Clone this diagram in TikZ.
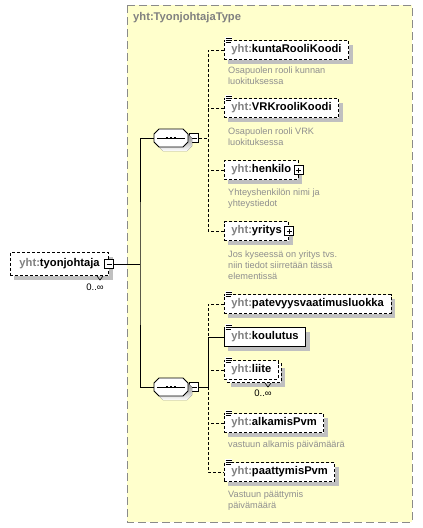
\documentclass[tikz,border=0pt]{standalone}
\usepackage{fontspec}
\setmainfont{Liberation Sans}
\usetikzlibrary{shadows}

\definecolor{typefill}{HTML}{FFFFCC}
\definecolor{typeline}{HTML}{8A8A8A}
\definecolor{prefix}{HTML}{808080}
\definecolor{docgray}{HTML}{8F8F8F}
\definecolor{shade}{HTML}{C0C0C0}

\newcommand{\yht}[1]{{\color{prefix}yht:}#1}
\newcommand{\octpath}{(-17,-4) -- (-12,-9) -- (12,-9) -- (17,-4) -- (17,4) -- (12,9) -- (-12,9) -- (-17,4) -- cycle}

\tikzset{
  namefont/.style={font=\fontsize{11.2}{13}\selectfont\bfseries},
  shadowed/.style={drop shadow={shadow xshift=4pt, shadow yshift=-4pt, fill=shade, opacity=1}},
  box/.style={draw, fill=white, line width=0.9pt, namefont, anchor=west, inner xsep=7pt, inner ysep=0pt, minimum height=19pt},
  optbox/.style={box, dash pattern=on 3pt off 2pt},
  elem/.style={box, shadowed},
  optelem/.style={optbox, shadowed},
  collapse/.style={draw, fill=white, line width=0.8pt, minimum size=9pt, inner sep=0pt,
    path picture={\draw[line width=0.8pt] ([xshift=2pt]path picture bounding box.west) -- ([xshift=-2pt]path picture bounding box.east);}},
  expand/.style={draw, fill=white, line width=0.8pt, minimum size=9pt, inner sep=0pt,
    path picture={\draw[line width=0.8pt] ([xshift=2pt]path picture bounding box.west) -- ([xshift=-2pt]path picture bounding box.east)
      ([yshift=-2pt]path picture bounding box.north) -- ([yshift=2pt]path picture bounding box.south);}},
  seq/.style={minimum width=34pt, minimum height=18pt, inner sep=0pt},
  doc/.style={font=\fontsize{9.2}{10.8}\selectfont, text=docgray, align=left, anchor=north west, inner sep=0pt},
  mult/.style={font=\fontsize{9.5}{11}\selectfont, inner sep=0pt},
  reqline/.style={line width=0.9pt},
  optline/.style={line width=0.9pt, dash pattern=on 3pt off 2pt}
}

\begin{document}
\begin{tikzpicture}[x=1pt, y=-1pt]
  \useasboundingbox (0,0) rectangle (423,528);

  % complex type frame
  \draw[typeline, fill=typefill, line width=1pt, dash pattern=on 8pt off 4pt] (127,5) rectangle (412,522);
  \node[namefont, text=prefix, anchor=west, inner sep=0pt] (typename) at (133,18) {yht:TyonjohtajaType};

  % root element
  \node[optelem, minimum height=23pt, inner xsep=9pt] (tyonjohtaja) at (10,264) {\yht{tyonjohtaja}\hspace{7pt}};
  \node[collapse] (tyonjohtaja-x) at (tyonjohtaja.east) {};
  \draw[line width=0.6pt] (97,276) -- (100,280) -- (103,276);
  \node[mult] (tyonjohtaja-n) at (95,287) {0..∞};

  % sequences
  \node[seq] (seqa) at (171,138) {};
  \node[collapse, anchor=west] (seqa-x) at ([xshift=1pt]seqa.east) {};
  \node[seq] (seqb) at (171,387) {};
  \node[collapse, anchor=west] (seqb-x) at ([xshift=1pt]seqb.east) {};
  \foreach \s in {seqa,seqb}{
    \fill[shade, shift={([xshift=4pt, yshift=-4pt]\s.center)}] \octpath;
    \draw[line width=0.9pt, fill=white, shift={(\s.center)}] \octpath;
    \draw[line width=0.9pt] ([xshift=3pt]\s.west) -- ([xshift=-3pt]\s.east);
    \foreach \d in {-5pt,-1pt,3pt}
      \fill ([xshift=\d, yshift=-1pt]\s.center) rectangle ++(2pt,2pt);
  }

  % first sequence
  \node[optelem] (kuntarooli) at (224,50) {\yht{kuntaRooliKoodi}};
  \node[doc] (kuntarooli-doc) at (228,67) {Osapuolen rooli kunnan\\luokituksessa};
  \node[optelem] (vrkrooli) at (224,108) {\yht{VRKrooliKoodi}};
  \node[doc] (vrkrooli-doc) at (228,128) {Osapuolen rooli VRK\\luokituksessa};
  \node[optelem] (henkilo) at (224,170) {\yht{henkilo}\hspace{7pt}};
  \node[expand] (henkilo-x) at (henkilo.east) {};
  \node[doc] (henkilo-doc) at (228,189) {Yhteyshenkilön nimi ja\\yhteystiedot};
  \node[optelem] (yritys) at (224,231) {\yht{yritys}\hspace{7pt}};
  \node[expand] (yritys-x) at (yritys.east) {};
  \node[doc] (yritys-doc) at (228,251) {Jos kyseessä on yritys tvs.\\niin tiedot siirretään tässä\\elementissä};

  % second sequence
  \node[optelem] (patevyys) at (224,304) {\yht{patevyysvaatimusluokka}};
  \node[elem] (koulutus) at (224,337) {\yht{koulutus}};
  \node[optelem] (liite-back) at (227,373) {\phantom{\yht{liite}}};
  \node[optbox] (liite) at (224,370) {\yht{liite}};
  \draw[line width=0.6pt] (265,383) -- (268,387) -- (271,383);
  \node[mult] (liite-n) at (263,393) {0..∞};
  \node[optelem] (alkamis) at (224,423) {\yht{alkamisPvm}};
  \node[doc] (alkamis-doc) at (228,441) {vastuun alkamis päivämäärä};
  \node[optelem] (paattymis) at (224,472) {\yht{paattymisPvm}};
  \node[doc] (paattymis-doc) at (228,491) {Vastuun päättymis\\päivämäärä};

  % simple content marks
  \foreach \n in {kuntarooli,vrkrooli,patevyys,koulutus,liite,alkamis,paattymis}{
    \fill[white] ([xshift=0.5pt, yshift=3.5pt]\n.north west) rectangle ([xshift=8pt, yshift=-3pt]\n.north west);
    \draw[line width=0.6pt] ([xshift=1.5pt, yshift=2pt]\n.north west) -- ++(6pt,0pt)
      ([xshift=1.5pt]\n.north west) -- ++(6pt,0pt)
      ([xshift=1.5pt, yshift=-2pt]\n.north west) -- ++(5pt,0pt);
  }

  % connectors
  \coordinate (trunk) at (140,264);
  \draw[reqline] (tyonjohtaja-x.east) -- (trunk);
  \draw[reqline] (seqa.west) -| (trunk) |- (seqb.west);

  \coordinate (forka) at (208,138);
  \draw[optline] (seqa-x.east) -- (forka);
  \draw[optline] (kuntarooli.west) -| (forka) |- (yritys.west);
  \draw[optline] (vrkrooli.west) -- (vrkrooli.west -| forka);
  \draw[optline] (henkilo.west) -- (henkilo.west -| forka);

  \coordinate (forkb) at (208,387);
  \draw[reqline] (seqb-x.east) -- (forkb);
  \draw[optline] (patevyys.west) -| (koulutus.west -| forkb);
  \draw[reqline] (koulutus.west) -| (forkb);
  \draw[optline] (forkb) |- (paattymis.west);
  \draw[optline] (liite.west) -- (liite.west -| forkb);
  \draw[optline] (alkamis.west) -- (alkamis.west -| forkb);
\end{tikzpicture}
\end{document}
